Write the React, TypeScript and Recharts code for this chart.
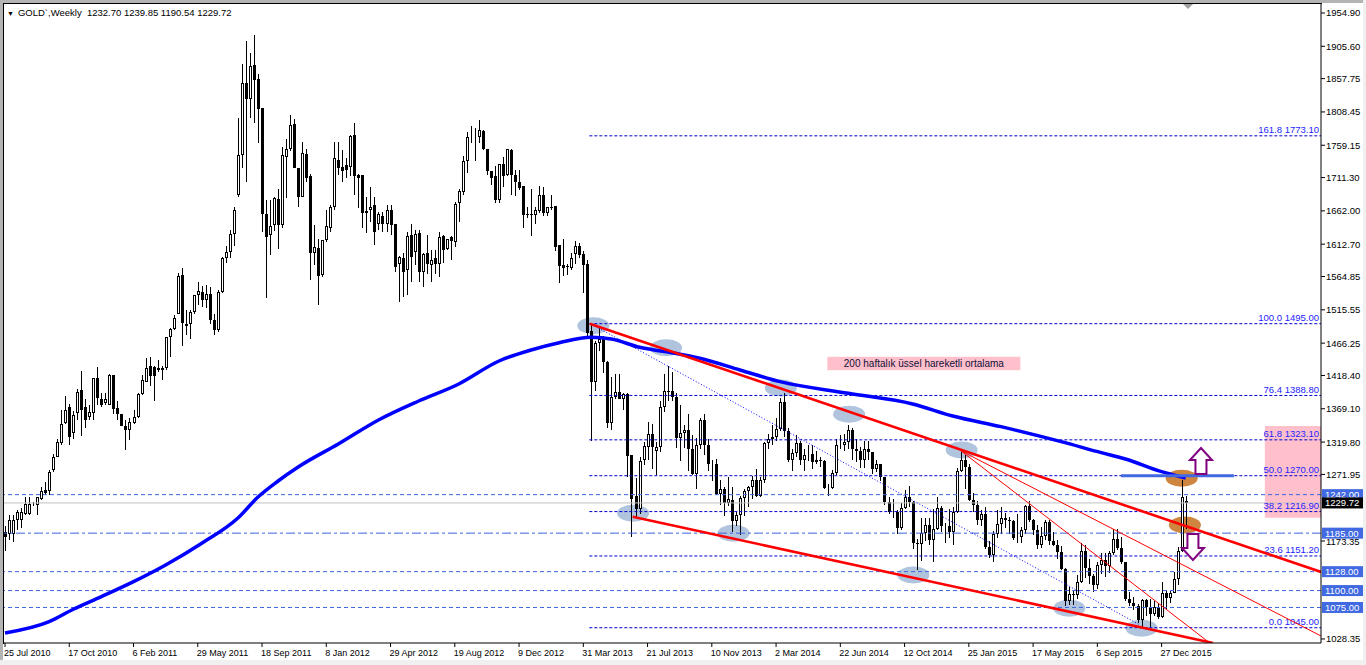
import React from 'react';
import {
  ComposedChart,
  Bar,
  Line,
  XAxis,
  YAxis,
  ReferenceLine,
  ReferenceDot,
  ReferenceArea,
} from 'recharts';

const W = 1366;
const H = 665;
const X_MIN = -0.25;
const X_MAX = 327.69;
const Y_MIN = 1022.4;
const Y_MAX = 1968.2;
const FONT = '"Liberation Sans", Arial, sans-serif';

// Weekly candles [open, high, low, close]
const candles: [number, number, number, number][] = [
  [1187,1195,1158,1180],[1183,1212,1175,1205],[1184,1212,1172,1205],[1205,1219,1190,1217],
  [1205,1222,1192,1217],[1214,1239,1212,1228],[1214,1239,1212,1228],[1227,1231,1225,1228],
  [1227,1239,1212,1239],[1236,1254,1234,1248],[1249,1261,1241,1245],[1248,1278,1242,1276],
  [1278,1302,1275,1298],[1298,1324,1297,1320],[1318,1367,1315,1347],[1348,1388,1347,1368],
  [1372,1376,1316,1328],[1333,1366,1325,1360],[1363,1398,1352,1394],[1397,1425,1329,1367],
  [1372,1384,1340,1352],[1357,1375,1352,1364],[1363,1415,1352,1415],[1415,1431,1375,1385],
  [1383,1392,1372,1375],[1377,1392,1375,1383],[1375,1420,1375,1419],[1419,1419,1362,1369],
  [1370,1380,1352,1361],[1361,1362,1343,1343],[1344,1352,1308,1338],[1338,1355,1323,1349],
  [1348,1368,1346,1357],[1357,1392,1356,1391],[1391,1419,1390,1412],[1409,1444,1408,1430],
  [1433,1446,1403,1417],[1431,1432,1381,1418],[1426,1441,1424,1430],[1427,1432,1411,1429],
  [1429,1475,1427,1475],[1475,1488,1445,1487],[1487,1508,1486,1504],[1510,1570,1510,1565],
  [1567,1577,1462,1496],[1494,1516,1478,1492],[1494,1516,1472,1513],[1512,1538,1510,1537],
  [1537,1556,1523,1543],[1542,1551,1520,1530],[1530,1552,1518,1539],[1539,1549,1495,1500],
  [1500,1510,1478,1486],[1486,1545,1483,1542],[1542,1594,1540,1592],[1592,1610,1585,1601],
  [1601,1633,1592,1628],[1628,1668,1610,1663],[1685,1800,1683,1745],[1745,1880,1725,1852],
  [1852,1913,1705,1828],[1828,1895,1800,1876],[1878,1922,1792,1856],[1857,1864,1762,1813],
  [1815,1815,1631,1657],[1657,1678,1533,1624],[1626,1678,1597,1639],[1641,1683,1632,1681],
  [1679,1695,1606,1641],[1641,1757,1636,1745],[1742,1769,1681,1754],[1754,1804,1750,1789],
  [1790,1798,1725,1725],[1725,1725,1667,1683],[1683,1764,1683,1747],[1746,1754,1705,1711],
  [1713,1717,1560,1599],[1599,1641,1582,1608],[1607,1621,1523,1565],[1567,1619,1564,1619],
  [1619,1663,1616,1640],[1636,1670,1630,1668],[1667,1764,1663,1740],[1737,1764,1715,1726],
  [1727,1752,1705,1721],[1730,1740,1710,1723],[1727,1775,1713,1773],[1775,1792,1686,1713],
  [1715,1717,1666,1711],[1715,1715,1636,1659],[1662,1683,1629,1659],[1663,1698,1646,1668],
  [1671,1683,1612,1631],[1643,1661,1634,1658],[1655,1661,1631,1643],[1643,1670,1631,1663],
  [1663,1670,1626,1641],[1642,1642,1572,1579],[1584,1595,1527,1594],[1592,1599,1535,1572],
  [1574,1631,1537,1625],[1626,1642,1556,1593],[1601,1634,1582,1628],[1629,1634,1556,1572],
  [1572,1600,1550,1598],[1599,1626,1569,1584],[1582,1604,1556,1590],[1592,1604,1569,1584],
  [1583,1631,1564,1624],[1625,1626,1585,1604],[1605,1621,1604,1620],[1624,1625,1590,1617],
  [1616,1675,1609,1672],[1673,1695,1646,1691],[1690,1743,1685,1736],[1736,1779,1718,1771],
  [1773,1788,1762,1774],[1773,1785,1736,1774],[1772,1797,1763,1782],[1780,1782,1752,1753],
  [1754,1754,1715,1721],[1721,1721,1700,1711],[1713,1728,1673,1678],[1678,1732,1674,1732],
  [1731,1742,1698,1714],[1715,1754,1713,1753],[1752,1753,1685,1715],[1715,1722,1684,1704],
  [1705,1723,1693,1696],[1699,1699,1636,1656],[1658,1668,1652,1656],[1658,1695,1625,1656],
  [1656,1668,1643,1663],[1662,1699,1659,1685],[1685,1697,1654,1659],[1659,1668,1654,1667],
  [1668,1685,1663,1667],[1669,1669,1602,1609],[1611,1611,1555,1580],[1582,1620,1565,1577],
  [1580,1584,1567,1579],[1578,1599,1575,1592],[1598,1618,1583,1610],[1610,1614,1592,1597],
  [1598,1602,1540,1582],[1583,1590,1475,1481],[1484,1495,1321,1409],[1409,1470,1395,1466],
  [1466,1488,1455,1473],[1473,1477,1422,1439],[1439,1440,1340,1348],[1348,1416,1338,1387],
  [1387,1421,1384,1394],[1394,1421,1384,1384],[1384,1393,1367,1391],[1391,1393,1268,1299],
  [1301,1301,1180,1236],[1240,1267,1207,1221],[1221,1297,1214,1292],[1293,1320,1286,1314],
  [1313,1349,1294,1332],[1332,1347,1280,1313],[1307,1320,1271,1313],[1313,1380,1305,1371],
  [1371,1420,1365,1396],[1396,1433,1380,1395],[1396,1424,1380,1387],[1387,1392,1311,1326],
  [1326,1375,1292,1333],[1333,1345,1311,1337],[1337,1362,1277,1310],[1310,1330,1271,1272],
  [1272,1326,1251,1315],[1315,1355,1310,1352],[1352,1362,1300,1315],[1315,1324,1277,1287],
  [1287,1294,1262,1288],[1288,1295,1241,1243],[1243,1264,1226,1250],[1250,1254,1211,1230],
  [1230,1268,1225,1235],[1234,1254,1186,1203],[1203,1216,1195,1212],[1212,1240,1182,1237],
  [1237,1250,1211,1247],[1247,1255,1224,1254],[1254,1270,1235,1264],[1264,1280,1238,1240],
  [1240,1268,1238,1263],[1263,1320,1259,1318],[1318,1332,1310,1324],[1324,1345,1316,1327],
  [1327,1355,1322,1339],[1339,1385,1336,1379],[1379,1392,1328,1336],[1336,1341,1290,1294],
  [1294,1310,1277,1303],[1303,1331,1298,1318],[1318,1322,1286,1293],[1293,1310,1277,1300],
  [1300,1315,1292,1302],[1302,1315,1280,1290],[1290,1306,1287,1293],[1293,1298,1283,1292],
  [1292,1294,1250,1252],[1252,1258,1240,1252],[1252,1278,1250,1274],[1274,1325,1271,1316],
  [1315,1330,1309,1317],[1316,1332,1306,1320],[1320,1345,1310,1337],[1337,1340,1293,1310],
  [1310,1325,1290,1307],[1307,1312,1281,1294],[1294,1322,1281,1310],[1310,1322,1293,1305],
  [1305,1305,1273,1280],[1280,1293,1275,1287],[1287,1287,1262,1268],[1268,1268,1227,1231],
  [1231,1239,1214,1216],[1216,1236,1207,1217],[1217,1219,1183,1192],[1192,1229,1190,1222],
  [1222,1249,1221,1238],[1238,1255,1224,1231],[1231,1232,1161,1171],[1171,1177,1131,1169],
  [1169,1208,1144,1185],[1185,1207,1173,1197],[1197,1207,1167,1175],[1175,1221,1142,1191],
  [1191,1238,1190,1222],[1222,1225,1187,1195],[1195,1200,1170,1196],[1195,1220,1178,1186],
  [1186,1224,1167,1216],[1216,1282,1215,1277],[1277,1307,1276,1294],[1294,1300,1251,1283],
  [1283,1287,1232,1234],[1234,1245,1216,1227],[1227,1232,1197,1204],[1204,1219,1195,1213],
  [1213,1223,1162,1164],[1164,1174,1148,1152],[1152,1188,1142,1183],[1183,1219,1178,1199],
  [1199,1224,1183,1207],[1207,1215,1192,1205],[1205,1209,1183,1203],[1203,1205,1175,1178],
  [1178,1214,1170,1179],[1179,1194,1170,1189],[1189,1227,1183,1225],[1225,1232,1201,1204],
  [1204,1206,1182,1189],[1189,1197,1162,1168],[1168,1194,1163,1181],[1181,1205,1175,1201],
  [1201,1204,1168,1173],[1173,1187,1166,1168],[1168,1175,1147,1157],[1157,1166,1130,1132],
  [1132,1134,1077,1085],[1085,1105,1078,1095],[1095,1099,1079,1094],[1094,1123,1087,1113],
  [1113,1170,1111,1159],[1159,1168,1118,1134],[1134,1147,1110,1121],[1121,1125,1098,1108],
  [1108,1142,1102,1138],[1138,1156,1124,1145],[1145,1156,1120,1137],[1137,1158,1126,1156],
  [1156,1191,1152,1177],[1177,1191,1160,1163],[1163,1180,1139,1142],[1142,1142,1085,1088],
  [1088,1098,1077,1081],[1081,1090,1071,1077],[1077,1080,1052,1057],[1057,1088,1046,1086],
  [1086,1088,1062,1075],[1075,1088,1046,1065],[1065,1085,1062,1076],[1076,1081,1058,1061],
  [1061,1112,1060,1097],[1097,1101,1073,1089],[1089,1100,1081,1097],[1097,1127,1096,1117],
  [1117,1165,1108,1158],[1158,1263,1157,1239],[1232.70,1239.85,1190.54,1229.72],
];

// 200-week exponential moving average, read at sample bars
const emaIdx = [0, 11, 17, 24, 32, 40, 49, 58, 63, 68, 73, 83, 93, 103, 113, 123, 131, 138, 146, 151, 158, 166, 173, 183, 193, 210, 226, 236, 248, 263, 273, 279, 288, 294];
const emaVal = [1037.2, 1054.0, 1072.3, 1091.0, 1113.2, 1137.9, 1170.0, 1207.4, 1238.5, 1262.2, 1282.9, 1317.0, 1352.5, 1380.6, 1405.8, 1439.8, 1456.1, 1466.9, 1474.9, 1472.4, 1460.1, 1452.1, 1443.8, 1426.5, 1409.2, 1392.0, 1376.2, 1358.4, 1342.6, 1320.4, 1304.1, 1294.8, 1276.0, 1266.7];

// axis ticks
const xTickIdx = [0, 16, 32, 48, 64, 80, 96, 112, 128, 144, 160, 176, 192, 208, 224, 240, 256, 272, 288];
const xTickLabels = ['25 Jul 2010', '17 Oct 2010', '6 Feb 2011', '29 May 2011', '18 Sep 2011', '8 Jan 2012', '29 Apr 2012', '19 Aug 2012', '9 Dec 2012', '31 Mar 2013', '21 Jul 2013', '10 Nov 2013', '2 Mar 2014', '22 Jun 2014', '12 Oct 2014', '25 Jan 2015', '17 May 2015', '6 Sep 2015', '27 Dec 2015'];
const yTicks = [1954.90, 1905.60, 1857.75, 1808.45, 1759.15, 1711.30, 1662.00, 1612.70, 1564.85, 1515.55, 1466.25, 1418.40, 1369.10, 1319.80, 1271.95, 1173.35, 1028.35];

// Fibonacci retracement
const fibPct = ['161.8', '100.0', '76.4', '61.8', '50.0', '38.2', '23.6', '0.0'];
const fibVal = [1773.10, 1495.00, 1388.80, 1323.10, 1270.00, 1216.90, 1151.20, 1045.00];
const fibStartIdx = 145.5;

// horizontal levels
const hLevels = [1242.0, 1185.0, 1128.0, 1100.0, 1075.0];
const hDash = ['4 3', '9 3 3 3', '4 3', '4 3', '4 3'];
const lastPrice = 1229.72;

// trend lines: [x1, y1, x2, y2]
const thickRed: [number, number, number, number][] = [
  [145.6, 1495.0, 327.69, 1127.5],
  [156.3, 1209.4, 300.8, 1022.4],
];
const thinRed: [number, number, number, number][] = [
  [238.0, 1307.0, 327.69, 1032.8],
  [238.0, 1307.0, 300.0, 1022.4],
];
const dottedBlue: [number, number, number, number] = [145.8, 1495.0, 282.6, 1049.1];
const blueLevelSeg: [number, number, number] = [277.9, 306.0, 1270.0];

// marked touch points
const blueMarks = [
  [146.5, 1492.0], [164.6, 1459.5], [193.2, 1399.8], [210.2, 1360.9], [238.2, 1308.1],
  [156.4, 1214.4], [181.4, 1184.8], [226.2, 1123.0], [265.0, 1073.8], [283.0, 1044.2],
];
const orangeMarks = [[293.0, 1266.2], [293.8, 1197.1]];
const upArrow = [297.8, 1291.8];
const downArrow = [295.8, 1164.5];
const pinkZone = [313.7, 1207.9, 1343.6];
const noteText = '200 haftalık üssel hareketli ortalama';
const notePos = [228.8, 1436.1];

const rows = candles.map(([o, h, l, c], i) => {
  const k = emaIdx.indexOf(i);
  return { i, o, h, l, c, ema: k >= 0 ? emaVal[k] : null };
});

const snap = (v: number) => Math.round(v - 0.5) + 0.5;

const Candle = (props: any) => {
  const { x, y, width, height, payload } = props;
  if (!payload || x == null) return null;
  const { o, h, l, c } = payload;
  const top = Math.min(y, y + height);
  const hgt = Math.abs(height);
  const ppu = h > l ? hgt / (h - l) : 0;
  const cx = snap(x + width / 2);
  const yO = top + (h - o) * ppu;
  const yC = top + (h - c) * ppu;
  const bTop = Math.round(Math.min(yO, yC));
  const bBot = Math.round(Math.max(yO, yC));
  const up = c >= o;
  return (
    <g>
      <line x1={cx} x2={cx} y1={Math.round(top)} y2={Math.round(top + hgt)} stroke="#000" strokeWidth={1} />
      {up ? (
        <rect x={cx - 1} y={bTop + 0.5} width={2} height={Math.max(bBot - bTop - 1, 0)} fill="#fff" stroke="#000" strokeWidth={1} />
      ) : (
        <rect x={cx - 1.5} y={bTop} width={3} height={Math.max(bBot - bTop, 1)} fill="#000" />
      )}
    </g>
  );
};

const XTick = (props: any) => {
  const { x, y, payload } = props;
  const k = xTickIdx.indexOf(payload.value);
  return (
    <text x={x - 1} y={y + 9} fontSize={9} fontFamily={FONT} fill="#000" textAnchor="start">
      {k >= 0 ? xTickLabels[k] : ''}
    </text>
  );
};

const YTick = (props: any) => {
  const { x, y, payload } = props;
  return (
    <text x={x + 1} y={y + 3.5} fontSize={9.5} fontFamily={FONT} fill="#000" textAnchor="start">
      {Number(payload.value).toFixed(2)}
    </text>
  );
};

const axisBox = (bg: string, text: string) => (props: any) => {
  const vb = props.viewBox || {};
  const bx = vb.x + vb.width + 1;
  const by = vb.y;
  return (
    <g>
      <rect x={bx} y={by - 5.5} width={43} height={11} fill={bg} />
      <text x={bx + 3} y={by + 3.5} fontSize={9.5} fontFamily={FONT} fill="#fff">{text}</text>
    </g>
  );
};

const fibLabel = (text: string) => (props: any) => {
  const vb = props.viewBox || {};
  return (
    <text x={vb.x + vb.width - 2} y={vb.y - 2.5} fontSize={9.5} fontFamily={FONT} fill="#2424ff" textAnchor="end">
      {text}
    </text>
  );
};

const ellipseShape = (fill: string) => (props: any) => (
  <ellipse cx={props.cx} cy={props.cy} rx={16} ry={8.5} fill={fill} />
);

const upArrowShape = (props: any) => {
  const { cx, cy } = props;
  const d = `M${cx},${cy - 13} L${cx + 11},${cy - 1} L${cx + 5.5},${cy - 1} L${cx + 5.5},${cy + 13} L${cx - 5.5},${cy + 13} L${cx - 5.5},${cy - 1} L${cx - 11},${cy - 1} Z`;
  return <path d={d} fill="#fff" stroke="#800080" strokeWidth={2} />;
};

const downArrowShape = (props: any) => {
  const { cx, cy } = props;
  const d = `M${cx - 5.5},${cy - 13} L${cx + 5.5},${cy - 13} L${cx + 5.5},${cy + 1} L${cx + 11},${cy + 1} L${cx},${cy + 13} L${cx - 11},${cy + 1} L${cx - 5.5},${cy + 1} Z`;
  return <path d={d} fill="#fff" stroke="#800080" strokeWidth={2} />;
};

const noteShape = (props: any) => {
  const { cx, cy } = props;
  return (
    <g>
      <rect x={cx - 96.5} y={cy - 6.7} width={193} height={13.4} fill="#ffc0cb" />
      <text x={cx} y={cy + 3.6} fontSize={10} fontFamily={FONT} fill="#10103a" textAnchor="middle">{noteText}</text>
    </g>
  );
};

export default function App() {
  const anyProps: any = {};
  return (
    <div style={{ position: 'relative', width: W, height: H, background: '#fff', overflow: 'hidden' }}>
      <style>{'body{margin:0;}'}</style>
      <ComposedChart
        width={W}
        height={H}
        data={rows}
        margin={{ top: 4, right: 0, bottom: 0, left: 4 }}
      >
        <XAxis
          dataKey="i"
          type="number"
          domain={[X_MIN, X_MAX]}
          allowDataOverflow
          ticks={xTickIdx}
          interval={0}
          height={22}
          tickSize={4}
          tickMargin={0}
          axisLine={{ stroke: '#000' }}
          tickLine={{ stroke: '#000' }}
          tick={<XTick />}
        />
        <YAxis
          orientation="right"
          type="number"
          domain={[Y_MIN, Y_MAX]}
          allowDataOverflow
          ticks={yTicks}
          interval={0}
          width={45}
          tickSize={4}
          tickMargin={0}
          axisLine={{ stroke: '#000' }}
          tickLine={{ stroke: '#000' }}
          tick={<YTick />}
        />
        <ReferenceArea
          x1={pinkZone[0]}
          x2={X_MAX}
          y1={pinkZone[1]}
          y2={pinkZone[2]}
          fill="#ffc0cb"
          fillOpacity={1}
          stroke="none"
          ifOverflow="hidden"
          {...{ zIndex: 90 }}
        />
        {blueMarks.map((m, k) => (
          <ReferenceDot key={'bm' + k} x={m[0]} y={m[1]} r={16} shape={ellipseShape('#b0c4de')} ifOverflow="visible" {...{ zIndex: 150 }} />
        ))}
        {orangeMarks.map((m, k) => (
          <ReferenceDot key={'om' + k} x={m[0]} y={m[1]} r={16} shape={ellipseShape('#cd853f')} ifOverflow="visible" {...{ zIndex: 150 }} />
        ))}
        {hLevels.map((v, k) => (
          <ReferenceLine
            key={'hl' + k}
            y={v}
            stroke="#3c64dc"
            strokeDasharray={hDash[k]}
            strokeWidth={1}
            label={axisBox('#4169e1', v.toFixed(2))}
          />
        ))}
        <ReferenceLine y={lastPrice} stroke="#c0c0c0" strokeWidth={1} label={axisBox('#000', lastPrice.toFixed(2))} />
        {fibVal.map((v, k) => (
          <ReferenceLine
            key={'fib' + k}
            segment={[{ x: fibStartIdx, y: v }, { x: X_MAX, y: v }]}
            stroke="#0000cd"
            strokeDasharray="3 2"
            strokeWidth={1}
            label={fibLabel(fibPct[k] + ' ' + v.toFixed(2))}
          />
        ))}
        <Bar
          dataKey={(d: any) => [d.l, d.h]}
          shape={Candle}
          barSize={3}
          isAnimationActive={false}
        />
        <Line
          dataKey="ema"
          type="monotone"
          stroke="#0000ff"
          strokeWidth={3.5}
          dot={false}
          connectNulls
          isAnimationActive={false}
        />
        <ReferenceLine
          segment={[{ x: dottedBlue[0], y: dottedBlue[1] }, { x: dottedBlue[2], y: dottedBlue[3] }]}
          stroke="#0000ff"
          strokeDasharray="1 2"
          strokeWidth={1}
          ifOverflow="hidden"
        />
        {thinRed.map((s, k) => (
          <ReferenceLine
            key={'tr' + k}
            segment={[{ x: s[0], y: s[1] }, { x: s[2], y: s[3] }]}
            stroke="#ff0000"
            strokeWidth={1}
            ifOverflow="hidden"
          />
        ))}
        {thickRed.map((s, k) => (
          <ReferenceLine
            key={'TR' + k}
            segment={[{ x: s[0], y: s[1] }, { x: s[2], y: s[3] }]}
            stroke="#ff0000"
            strokeWidth={2.6}
            ifOverflow="hidden"
          />
        ))}
        <ReferenceLine
          segment={[{ x: blueLevelSeg[0], y: blueLevelSeg[2] }, { x: blueLevelSeg[1], y: blueLevelSeg[2] }]}
          stroke="#4169e1"
          strokeWidth={3}
          ifOverflow="hidden"
        />
        <ReferenceDot x={upArrow[0]} y={upArrow[1]} r={12} shape={upArrowShape} ifOverflow="visible" />
        <ReferenceDot x={downArrow[0]} y={downArrow[1]} r={12} shape={downArrowShape} ifOverflow="visible" />
        <ReferenceDot x={notePos[0]} y={notePos[1]} r={10} shape={noteShape} ifOverflow="visible" />
      </ComposedChart>
      <div style={{ position: 'absolute', left: 0, top: 0, width: W, height: 3, background: '#b4b4b4' }} />
      <div style={{ position: 'absolute', left: 0, top: 0, width: 3, height: H, background: '#b4b4b4' }} />
      <div style={{ position: 'absolute', left: 3, top: 3, width: 1319, height: 1, background: '#000' }} />
      <div style={{ position: 'absolute', left: 3, top: 3, width: 1, height: 641, background: '#000' }} />
      <div style={{ position: 'absolute', left: 0, top: 660, width: W, height: 5, background: '#f0f0f0' }} />
      <div style={{ position: 'absolute', left: 1363, top: 0, width: 3, height: H, background: '#f0f0f0' }} />
      <div style={{ position: 'absolute', left: 7, top: 7, fontFamily: FONT, fontSize: 9.5, color: '#000', whiteSpace: 'pre' }}>
        <span style={{ fontSize: 7, marginRight: 4 }}>▼</span>
        {'GOLD`,Weekly  1232.70 1239.85 1190.54 1229.72'}
      </div>
      <svg style={{ position: 'absolute', left: 1183, top: 4 }} width={12} height={7}>
        <polygon points="0,0 10,0 5,5" fill="#a0a0a0" />
      </svg>
    </div>
  );
}
